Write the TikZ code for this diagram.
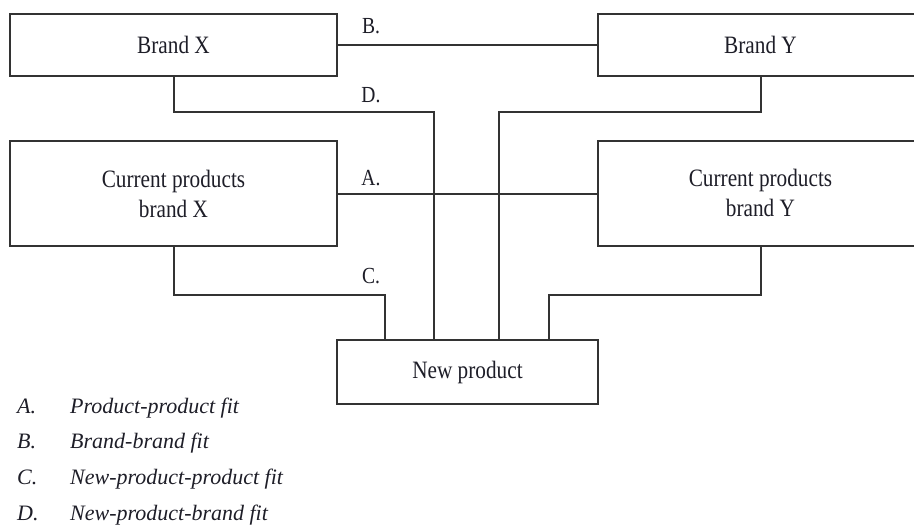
\documentclass[tikz,border=0pt]{standalone}
\usepackage{fontspec}
\setmainfont{Liberation Serif}
\newfontfamily\boxfont[FakeStretch=0.85]{Liberation Serif}
\usetikzlibrary{calc}
\definecolor{linegray}{HTML}{333333}
\definecolor{inkc}{HTML}{1E1E28}
\tikzset{
  fitbox/.style={draw=linegray, line width=2pt, rectangle, inner sep=0pt, align=center,
    text=inkc, font=\boxfont\fontsize{25}{30}\selectfont},
  conn/.style={draw=linegray, line width=2pt},
  fitlabel/.style={text=inkc, inner sep=0pt, font=\boxfont\fontsize{23}{28}\selectfont},
  legletter/.style={text=inkc, inner sep=0pt, anchor=base west, font=\fontsize{22}{26}\selectfont\itshape},
  legtext/.style={text=inkc, inner sep=0pt, anchor=base west, font=\fontsize{22}{26}\selectfont\itshape}
}
\begin{document}
\begin{tikzpicture}[x=1pt,y=-1pt]
\useasboundingbox (0,0) rectangle (914,527);
\clip (0,0) rectangle (914,527);
\fill[white] (0,0) rectangle (914,527);
% boxes
\node[fitbox, minimum width=327pt, minimum height=62pt] (BX) at (173.5,45) {Brand X};
\node[fitbox, minimum width=325pt, minimum height=62pt] (BY) at (760.5,45) {Brand Y};
\node[fitbox, minimum width=327pt, minimum height=105pt] (CPX) at (173.5,193.5) {Current products\\brand X};
\node[fitbox, minimum width=325pt, minimum height=105pt] (CPY) at (760.5,193) {Current products\\brand Y};
\node[fitbox, minimum width=261pt, minimum height=64pt] (NP) at (467.5,372) {New product};
% connector end points on the new product box
\coordinate (nC) at ($(NP.north west)+(49,0)$);
\coordinate (nD) at ($(NP.north west)+(98,0)$);
\coordinate (nY) at ($(NP.north west)+(163,0)$);
\coordinate (nCY) at ($(NP.north west)+(213,0)$);
% connectors
\draw[conn] (BX.east) -- (BY.west);
\draw[conn] (CPX.east) -- (CPX.east -| CPY.west);
\draw[conn] (BX.south) -- ++(0,35) -| (nD);
\draw[conn] (BY.south) -- ++(0,35) -| (nY);
\draw[conn] (CPX.south) -- ++(0,48) -| (nC);
\draw[conn] (CPY.south) -- ++(0,48) -| (nCY);
% labels
\node[fitlabel] (lB) at (371,26) {B.};
\node[fitlabel] (lD) at (371,95) {D.};
\node[fitlabel] (lA) at (371,178) {A.};
\node[fitlabel] (lC) at (371,276) {C.};
% legend
\node[legletter] (kA) at (17,413) {A.};
\node[legtext] (tA) at (70,413) {Product-product fit};
\node[legletter] (kB) at (17,448) {B.};
\node[legtext] (tB) at (70,448) {Brand-brand fit};
\node[legletter] (kC) at (17,484) {C.};
\node[legtext] (tC) at (70,484) {New-product-product fit};
\node[legletter] (kD) at (17,520) {D.};
\node[legtext] (tD) at (70,520) {New-product-brand fit};
\end{tikzpicture}
\end{document}
